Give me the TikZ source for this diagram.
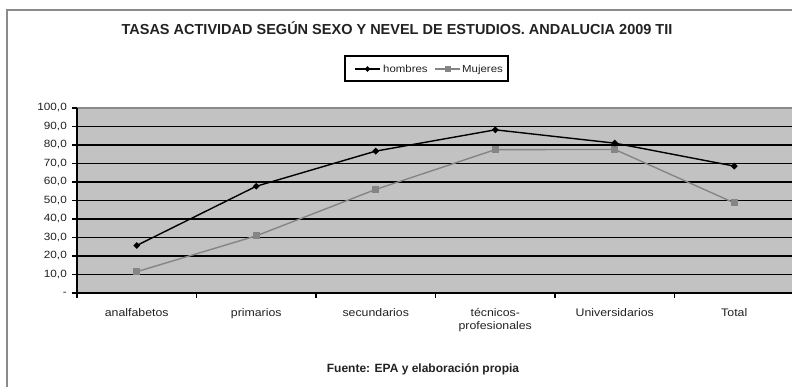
\documentclass[tikz,border=0pt]{standalone}
\usepackage{fontspec}
\setmainfont{Liberation Sans}
\newfontfamily\axisfont[FakeStretch=1.12]{Liberation Sans}
\usetikzlibrary{shapes.geometric}
\definecolor{plotbg}{HTML}{C2C2C2}
\definecolor{framegray}{HTML}{8A8A8A}
\definecolor{mujgray}{HTML}{858585}
\definecolor{txtgray}{HTML}{222222}
\tikzset{
  gridline/.style={line width=1.4pt, black},
  hline/.style={line width=1.4pt, black},
  mline/.style={line width=1.4pt, mujgray},
  hmark/.style={diamond, fill=black, inner sep=0pt, minimum size=7pt},
  mmark/.style={rectangle, fill=mujgray, inner sep=0pt, minimum size=7pt},
  ylab/.style={anchor=base east, inner sep=0pt, font=\axisfont\fontsize{10.5}{12}\selectfont, text=txtgray},
  xlab/.style={anchor=base, inner sep=0pt, font=\axisfont\fontsize{11}{13}\selectfont, text=txtgray},
  leglab/.style={anchor=base west, inner sep=0pt, font=\axisfont\fontsize{10.2}{12}\selectfont, text=txtgray},
  tick/.style={line width=1.4pt, black}
}
\begin{document}
\begin{tikzpicture}[x=1pt,y=-1pt]
\useasboundingbox (0,0) rectangle (792,386);
\fill[white] (0,0) rectangle (792,386);
% outer frame
\draw[framegray, line width=1.6pt] (7,400) -- (7,10) -- (800,10);
% plot area
\fill[plotbg] (77,108) rectangle (800,293);
\draw[framegray, line width=1.2pt] (77,108) -- (800,108);
\foreach \v in {10,20,...,90} {
  \draw[gridline] (77,{293-1.85*\v}) -- (800,{293-1.85*\v});
}
% axes
\coordinate (ytop) at (77,108);
\coordinate (orig) at (77,293);
\coordinate (xend) at (800,293);
\draw[tick] (ytop) -- (orig) -- (xend);
% y ticks and labels
\foreach \v/\t in {0/-,10/{10,0},20/{20,0},30/{30,0},40/{40,0},50/{50,0},60/{60,0},70/{70,0},80/{80,0},90/{90,0},100/{100,0}} {
  \draw[tick] (72,{293-1.85*\v}) -- (77,{293-1.85*\v});
  \node[ylab] (yl\v) at (67,{293-1.85*\v+2.8}) {\t};
}
% x ticks
\foreach \k in {0,...,6} {
  \draw[tick] ({77+119.5*\k},293) -- ({77+119.5*\k},298);
}
% x labels
\node[xlab] (c1) at (136.75,316) {analfabetos};
\node[xlab] (c2) at (256.25,316) {primarios};
\node[xlab] (c3) at (375.75,316) {secundarios};
\node[xlab] (c4a) at (495.25,316) {técnicos-};
\node[xlab] (c4b) at (495.25,329) {profesionales};
\node[xlab] (c5) at (614.75,316) {Universidarios};
\node[xlab] (c6) at (734.25,316) {Total};
% data coordinates
\foreach \i/\h/\m in {1/25.7/11.5, 2/57.7/30.9, 3/76.7/56.0, 4/88.2/77.5, 5/81.0/77.6, 6/68.6/48.7} {
  \coordinate (H\i) at ({17.25+119.5*\i},{293-1.85*\h});
  \coordinate (M\i) at ({17.25+119.5*\i},{293-1.85*\m});
}
\draw[mline] (M1) -- (M2) -- (M3) -- (M4) -- (M5) -- (M6);
\draw[hline] (H1) -- (H2) -- (H3) -- (H4) -- (H5) -- (H6);
\foreach \i in {1,...,6} {
  \node[mmark] (mm\i) at (M\i) {};
  \node[hmark] (hm\i) at (H\i) {};
}
% title
\node[font=\bfseries\fontsize{14.5}{17}\selectfont, text=txtgray, inner sep=0pt] (title) at (397,28) {TASAS ACTIVIDAD SEGÚN SEXO Y NEVEL DE ESTUDIOS. ANDALUCIA 2009 TII};
% legend
\node[draw=black, line width=1.2pt, fill=white, minimum width=163pt, minimum height=25pt, inner sep=0pt] (legend) at (426.5,68.5) {};
\coordinate (lh1) at (355,69);
\coordinate (lh2) at (380,69);
\coordinate (lm1) at (435,69);
\coordinate (lm2) at (460,69);
\draw[hline] (lh1) -- (lh2);
\node[hmark, minimum size=6pt] (lhm) at (367.5,69) {};
\node[leglab] (lht) at (383,72.8) {hombres};
\draw[mline] (lm1) -- (lm2);
\node[mmark, minimum size=6pt] (lmm) at (447.5,69) {};
\node[leglab] (lmt) at (462,72.8) {Mujeres};
% footer
\node[font=\bfseries\fontsize{12}{14}\selectfont, text=txtgray, inner sep=0pt] (footer) at (423,369) {Fuente: EPA y elaboración propia};
\end{tikzpicture}
\end{document}
